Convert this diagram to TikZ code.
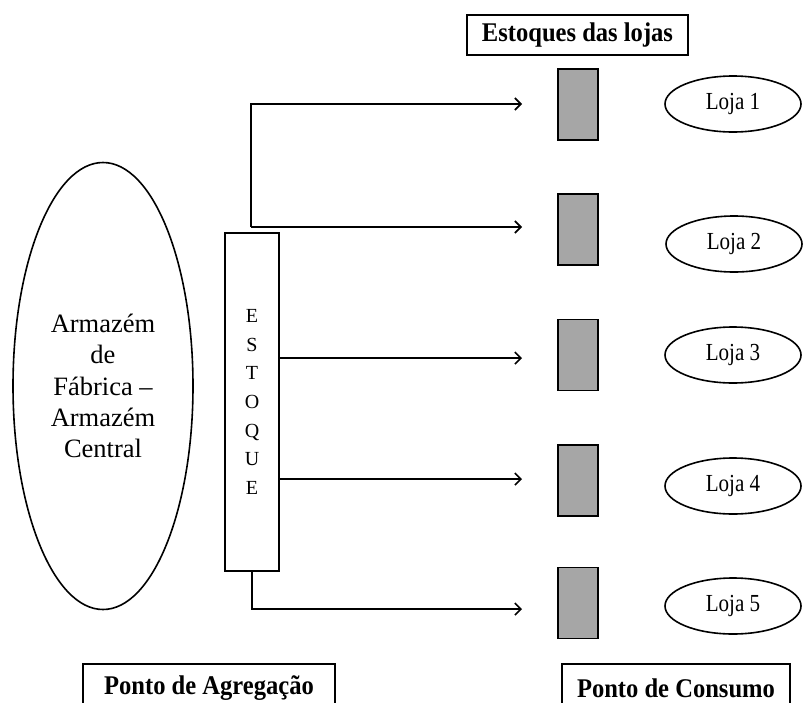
\documentclass[tikz,border=0pt]{standalone}
\usepackage{fontspec}
\setmainfont{Liberation Serif}
\newfontfamily\narrowfont{Liberation Serif}[FakeStretch=0.86]
\newfontfamily\labfont{Liberation Serif}[FakeStretch=0.91]
\usetikzlibrary{shapes.geometric,arrows.meta}
\begin{document}
\begin{tikzpicture}[x=1pt,y=-1pt,line width=1.6pt,
  arr/.style={-{Straight Barb[length=6pt,width=12pt,line width=1.6pt]}},
  stk/.style={draw,fill=stockgray,minimum width=40pt,minimum height=71pt,inner sep=0pt},
  loja/.style={ellipse,draw,minimum width=136pt,minimum height=56pt,inner sep=0pt,font=\narrowfont\fontsize{24.5}{28}\selectfont},
  lbl/.style={draw,inner sep=0pt,font=\labfont\bfseries\fontsize{27}{32}\selectfont}]
\definecolor{stockgray}{HTML}{A6A6A6}
\useasboundingbox (0,0) rectangle (803,702);
% warehouse
\node[ellipse,draw,minimum width=180pt,minimum height=447pt,inner sep=0pt,align=center,
  font=\fontsize{26.5}{31.25}\selectfont] (wh) at (103,386) {Armazém\\de\\Fábrica –\\Armazém\\Central};
% central stock
\node[draw,minimum width=54pt,minimum height=338pt,inner sep=0pt,align=center,
  font=\fontsize{20}{28.7}\selectfont] (est) at (252,402) {E\\S\\T\\O\\Q\\U\\E};
% store stocks
\node[stk] (s1) at (578,104.5) {};
\node[stk] (s2) at (578,229.5) {};
\node[stk] (s3) at (578,355) {};
\node[stk] (s4) at (578,480.5) {};
\node[stk] (s5) at (578,603) {};
% stores
\node[loja] (l1) at (733,104) {Loja 1};
\node[loja] (l2) at (734,244) {Loja 2};
\node[loja] (l3) at (733,355) {Loja 3};
\node[loja] (l4) at (733,486) {Loja 4};
\node[loja] (l5) at (733,606) {Loja 5};
% labels
\node[lbl,minimum width=221pt,minimum height=40pt] (top) at (577.5,35) {Estoques das lojas};
\node[lbl,minimum width=252pt,minimum height=48pt] (agr) at (209,688) {Ponto de Agregação};
\node[lbl,minimum width=228pt,minimum height=48pt] (con) at (676,688) {Ponto de Consumo};
% arrows
\coordinate (j) at (251,227);
\coordinate (a1) at (522,104);
\coordinate (a2) at (522,227);
\coordinate (a3) at (522,358);
\coordinate (a4) at (522,479);
\coordinate (a5) at (522,609);
\draw[arr] (j) |- (a1);
\draw[arr] (j) -- (a2);
\draw[arr] (est.east |- a3) -- (a3);
\draw[arr] (est.east |- a4) -- (a4);
\draw[arr] (est.south) |- (a5);
\end{tikzpicture}
\end{document}
